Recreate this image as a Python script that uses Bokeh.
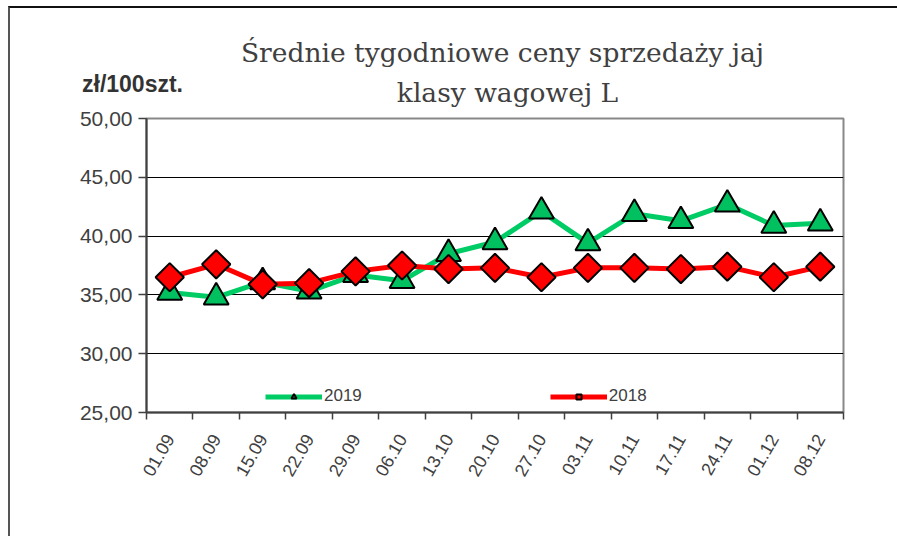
import numpy as np
from bokeh.plotting import figure
from bokeh.models import (Range1d, FixedTicker, Label, Legend, LegendItem, ColumnDataSource)
from bokeh.embed import file_html
from bokeh.resources import INLINE

weeks = ["01.09", "08.09", "15.09", "22.09", "29.09", "06.10", "13.10", "20.10",
         "27.10", "03.11", "10.11", "17.11", "24.11", "01.12", "08.12"]
y2019 = [35.2, 34.8, 36.1, 35.3, 36.7, 36.2, 38.5, 39.5, 42.1, 39.4, 41.9, 41.3, 42.7, 40.9, 41.1]
y2018 = [36.5, 37.6, 35.9, 36.0, 37.0, 37.5, 37.2, 37.3, 36.5, 37.3, 37.3, 37.2, 37.4, 36.5, 37.4]
y_ticks = [25, 30, 35, 40, 45, 50]
y_tick_labels = ["25,00", "30,00", "35,00", "40,00", "45,00", "50,00"]
series_names = ["2019", "2018"]
title_lines = ["Średnie tygodniowe ceny sprzedaży jaj", "klasy wagowej L"]
unit_label = "zł/100szt."

x = list(range(1, len(weeks) + 1))
src = ColumnDataSource(dict(x=x, y2019=y2019, y2018=y2018))

FRAME_W, FRAME_H = 697, 294
p = figure(frame_width=FRAME_W, frame_height=FRAME_H,
           x_range=Range1d(0.5, len(weeks) + 0.5), y_range=Range1d(25, 50),
           output_backend="svg", toolbar_location=None,
           min_border_left=136, min_border_top=110, min_border_right=54, min_border_bottom=124)
p.background_fill_color = "white"
p.border_fill_color = "white"
p.outline_line_color = "#888888"
p.outline_line_width = 2
p.styles = {"margin-left": "8px", "margin-top": "6px",
            "border-top": "2px solid #111111", "border-left": "2px solid #555555"}

# axes
tick_color = "#404040"
p.yaxis.ticker = FixedTicker(ticks=y_ticks)
p.yaxis.major_label_overrides = {t: l for t, l in zip(y_ticks, y_tick_labels)}
p.yaxis.major_label_text_font = "Liberation Sans"
p.yaxis.major_label_text_font_size = "21px"
p.yaxis.major_label_text_color = tick_color
p.yaxis.axis_line_color = tick_color
p.yaxis.axis_line_width = 2
p.yaxis.major_tick_line_color = tick_color
p.yaxis.major_tick_line_width = 1.5
p.yaxis.major_tick_out = 8
p.yaxis.major_tick_in = 0
p.yaxis.minor_tick_line_color = None
p.yaxis.major_label_standoff = 6

p.xaxis.ticker = FixedTicker(ticks=x, minor_ticks=[i + 0.5 for i in range(len(weeks) + 1)])
p.xaxis.major_label_overrides = {i: w for i, w in zip(x, weeks)}
p.xaxis.major_label_orientation = np.pi / 3
p.xaxis.major_label_text_font = "Liberation Sans"
p.xaxis.major_label_text_font_size = "18px"
p.xaxis.major_label_text_color = tick_color
p.xaxis.axis_line_color = tick_color
p.xaxis.axis_line_width = 2
p.xaxis.major_tick_out = 0
p.xaxis.major_tick_in = 0
p.xaxis.minor_tick_out = 7
p.xaxis.minor_tick_in = 0
p.xaxis.minor_tick_line_color = tick_color
p.xaxis.minor_tick_line_width = 1.5
p.xaxis.major_label_standoff = 16

p.xgrid.grid_line_color = None
p.ygrid.ticker = FixedTicker(ticks=y_ticks[1:-1])
p.ygrid.grid_line_color = "black"
p.ygrid.grid_line_width = 1

green_line, green_fill = "#00cc66", "#00c060"
red_line, red_fill = "#ff0000", "#ff0000"

l1 = p.line("x", "y2019", source=src, line_color=green_line, line_width=5)
m1 = p.scatter("x", "y2019", source=src, marker="triangle", size=25,
               fill_color=green_fill, line_color="black", line_width=2)
l2 = p.line("x", "y2018", source=src, line_color=red_line, line_width=5)
m2 = p.scatter("x", "y2018", source=src, marker="square", angle=np.pi / 4, size=20,
               fill_color=red_fill, line_color="black", line_width=2)

# legend kept inside the frame (annotations in the centre are clipped to it)
legend = Legend(items=[LegendItem(label=series_names[0], renderers=[l1, m1]),
                       LegendItem(label=series_names[1], renderers=[l2, m2])],
                orientation="horizontal", location=(119, 6),
                glyph_width=57, glyph_height=13, spacing=188, padding=0, margin=0,
                label_text_font="Liberation Sans", label_text_font_size="17px",
                label_text_color=tick_color, label_standoff=2,
                border_line_color=None, background_fill_alpha=0)
p.add_layout(legend, "center")

# texts in the above panel (side-panel annotations are not clipped to the frame)
p.add_layout(Label(x=-14, y=35, x_units="screen", y_units="screen", text=unit_label,
                   text_font="Liberation Sans", text_font_size="23px", text_font_style="bold",
                   text_color="#333333", text_align="center", text_baseline="middle"), "above")
p.add_layout(Label(x=361, y=0, x_units="screen", y_units="screen", text=title_lines[1],
                   text_font="DejaVu Serif", text_font_size="26.5px",
                   text_color="#404040", text_align="center", text_baseline="middle"), "above")
p.add_layout(Label(x=356, y=9, x_units="screen", y_units="screen", text=title_lines[0],
                   text_font="DejaVu Serif", text_font_size="26.5px",
                   text_color="#404040", text_align="center", text_baseline="middle"), "above")

open("out.html", "w").write(file_html(p, INLINE))
